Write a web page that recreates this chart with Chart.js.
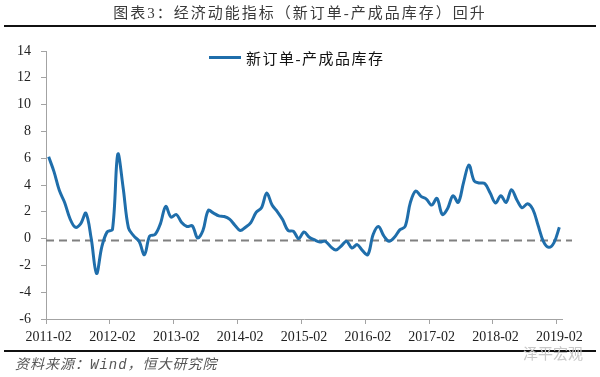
<!DOCTYPE html>
<html>
<head>
<meta charset="utf-8">
<script src="https://cdn.jsdelivr.net/npm/chart.js@4.4.1/dist/chart.umd.min.js"></script>
<style>
  html, body { margin: 0; padding: 0; background: #fff; }
  #wrap { position: relative; width: 600px; height: 377px; overflow: hidden; }
  #chart { position: absolute; left: 0; top: 0; }
  .title { position: absolute; left: 0; top: 1px; width: 600px; text-align: center;
    font: 15px "Liberation Serif", "Noto Sans CJK SC"; letter-spacing: 2px; color: #3a3a3a; }
  .rule { position: absolute; left: 4px; width: 592px; height: 2px; background: #111; }
  .legend-line { position: absolute; left: 209px; top: 56px; width: 32px; height: 3px; background: #1f6eab; }
  .legend-text { position: absolute; left: 246px; top: 47px; line-height: 20px;
    font: 15px "Liberation Serif", "Noto Sans CJK SC"; letter-spacing: 1.5px; color: #111; }
  .source { position: absolute; left: 15px; top: 353px; line-height: 20px;
    font: italic 14px "Liberation Mono", "Noto Sans CJK SC"; letter-spacing: 1px; color: #555; }
  .mark { position: absolute; left: 523px; top: 342px; line-height: 20px;
    font: 15px "Noto Sans CJK SC"; color: #c8c8c8; }
</style>
</head>
<body>
<div id="wrap">
  <canvas id="chart" width="600" height="377"></canvas>
  <div class="title">图表3：经济动能指标（新订单-产成品库存）回升</div>
  <div class="rule" style="top:25px"></div>
  <div class="legend-line"></div>
  <div class="legend-text">新订单-产成品库存</div>
  <div class="rule" style="top:350px"></div>
  <div class="source">资料来源：Wind，恒大研究院</div>
  <div class="mark">泽平宏观</div>
</div>
<script>
// 新订单-产成品库存, monthly
const v2011 = [6.1, 5.0, 3.6, 2.7, 1.5, 0.85, 1.1, 1.9, 0.0, -2.6, -0.6]; // Feb-Dec
const v2012 = [0.5, 0.7, 6.3, 3.8, 0.8, 0.2, -0.2, -1.2, 0.2, 0.3, 1.1, 2.4];
const v2013 = [1.6, 1.8, 1.2, 0.9, 0.95, 0.05, 0.6, 2.1, 1.9, 1.7, 1.65, 1.45];
const v2014 = [1.0, 0.6, 0.85, 1.2, 1.95, 2.3, 3.4, 2.5, 2.0, 1.4, 0.6, 0.55];
const v2015 = [0.0, 0.5, 0.1, -0.1, -0.25, -0.2, -0.6, -0.85, -0.55, -0.2, -0.7, -0.45];
const v2016 = [-0.9, -1.2, 0.3, 0.9, 0.2, -0.2, 0.1, 0.65, 0.9, 2.7, 3.55, 3.15];
const v2017 = [2.95, 2.5, 3.0, 1.8, 2.25, 3.2, 2.7, 4.2, 5.5, 4.3, 4.15, 4.1];
const v2018 = [3.4, 2.65, 3.2, 2.7, 3.65, 2.9, 2.3, 2.6, 2.2, 1.0, -0.2, -0.65];
const v2019 = [-0.3, 0.85]; // Jan-Feb

const yearTicks = ["2011-02", "2012-02", "2013-02", "2014-02", "2015-02",
                   "2016-02", "2017-02", "2018-02", "2019-02"];
const baseLine = -0.15; // grey dashed reference line

const values = [].concat(v2011, v2012, v2013, v2014, v2015, v2016, v2017, v2018, v2019);
const months = [];
for (let y = 2011; y <= 2019; y++) {
  for (let m = 1; m <= 12; m++) {
    if (y === 2011 && m < 2) continue;
    if (y === 2019 && m > 2) break;
    months.push(y + "-" + String(m).padStart(2, "0"));
  }
}

const axisGrey = "#a3a3a3";
const tickFont = { family: "Liberation Serif", size: 14 };

const dashedLine = {
  id: "dashedLine",
  beforeDatasetsDraw(chart) {
    const { ctx, chartArea, scales } = chart;
    const y = scales.y.getPixelForValue(baseLine);
    ctx.save();
    ctx.strokeStyle = "#808080";
    ctx.lineWidth = 2;
    ctx.setLineDash([8, 5]);
    ctx.beginPath();
    ctx.moveTo(chartArea.left, y);
    ctx.lineTo(chartArea.right + 10, y);
    ctx.stroke();
    ctx.restore();
  }
};

new Chart(document.getElementById("chart"), {
  type: "line",
  data: {
    labels: months,
    datasets: [{
      label: "新订单-产成品库存",
      data: values,
      borderColor: "#1f6eab",
      backgroundColor: "#1f6eab",
      borderWidth: 3,
      pointRadius: 0,
      tension: 0.35,
      fill: false
    }]
  },
  options: {
    responsive: false,
    animation: false,
    layout: { padding: { top: 51, right: 38, bottom: 0, left: 0 } },
    plugins: { legend: { display: false }, tooltip: { enabled: false } },
    scales: {
      x: {
        offset: true,
        border: { color: axisGrey, width: 1 },
        grid: {
          offset: true,
          drawOnChartArea: false,
          tickLength: 5,
          color: (c) => (c.index % 12 === 0 ? axisGrey : "rgba(0,0,0,0)")
        },
        ticks: {
          autoSkip: false,
          maxRotation: 0,
          padding: 5,
          color: "#222",
          font: tickFont,
          callback: (v, i) => (i % 12 === 0 ? yearTicks[i / 12] : "")
        },
        afterFit: (s) => { s.height = 58; }
      },
      y: {
        min: -6,
        max: 14,
        border: { color: axisGrey, width: 1 },
        grid: { drawOnChartArea: false, tickLength: 5, color: axisGrey },
        ticks: { stepSize: 2, padding: 10, color: "#222", font: tickFont },
        afterFit: (s) => { s.width = 46; }
      }
    }
  },
  plugins: [dashedLine]
});
</script>
</body>
</html>
